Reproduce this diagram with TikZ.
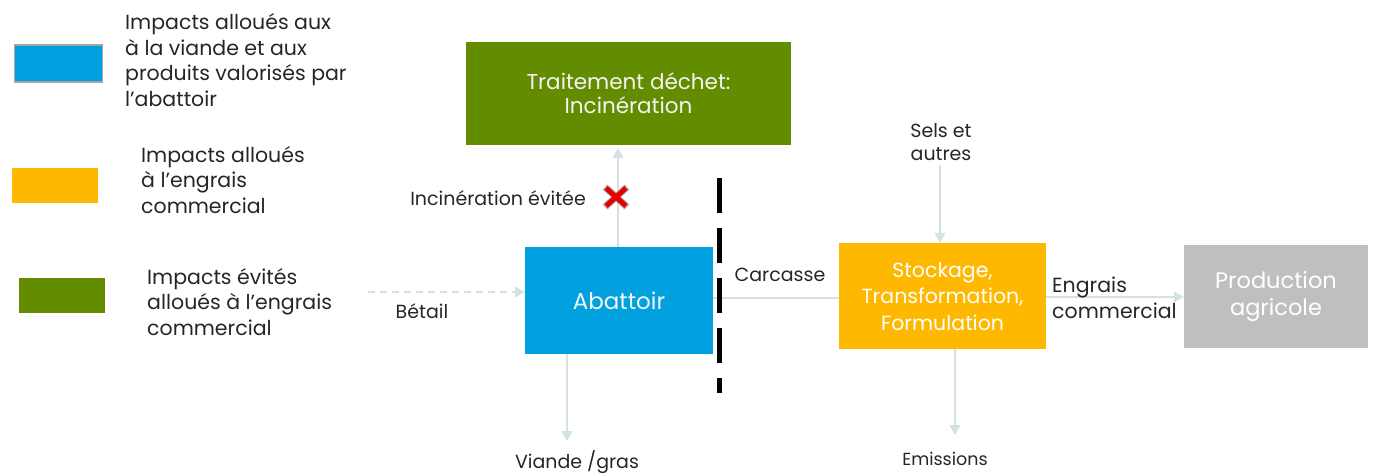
\documentclass[tikz,border=0pt]{standalone}
\usepackage{fontspec}
\setmainfont{Poppins}
\usetikzlibrary{arrows.meta,calc}
\definecolor{cblue}{HTML}{00A1DE}
\definecolor{corange}{HTML}{FFB800}
\definecolor{cgreen}{HTML}{638C00}
\definecolor{cgrey}{HTML}{BFBFBF}
\definecolor{ctext}{HTML}{262626}
\definecolor{cflow}{HTML}{D3E1E5}
\definecolor{cbox}{HTML}{F4F4F4}
\tikzset{
  legbox/.style={minimum width=86pt,minimum height=35pt,inner sep=0pt},
  legtext/.style={anchor=west,align=left,text=ctext,font=\fontsize{20.5}{25.7}\selectfont,inner sep=0pt},
  procbox/.style={inner sep=0pt,align=center,text=cbox},
  lbl/.style={text=ctext,font=\fontsize{19}{23}\selectfont,inner sep=0pt,align=center},
  flow/.style={draw=cflow,line width=1.2pt,-{Triangle[width=11pt,length=10pt]}},
  plainflow/.style={draw=cflow,line width=1.2pt},
}
\begin{document}
\begin{tikzpicture}[x=1pt,y=-1pt]
\useasboundingbox (0,0) rectangle (1373,475);

% legend
\node[legbox,fill=cblue,draw=gray!70,line width=1.2pt,minimum width=88pt,minimum height=37pt] (lb) at (58.5,63.5) {};
\node[legtext] (lbt) at (125,60) {Impacts alloués aux\\à la viande et aux\\produits valorisés par\\l’abattoir};
\node[legbox,fill=corange] (lo) at (55,185) {};
\node[legtext] (lot) at (141,180) {Impacts alloués\\à l’engrais\\commercial};
\node[legbox,fill=cgreen] (lg) at (62,295) {};
\node[legtext] (lgt) at (147,302) {Impacts évités\\alloués à l’engrais\\commercial};

% process boxes
\node[procbox,fill=cgreen,minimum width=325pt,minimum height=103pt,font=\fontsize{21.5}{24}\selectfont] (inc) at (628.5,93.5) {Traitement déchet:\\Incinération};
\node[procbox,fill=cblue,minimum width=188pt,minimum height=107pt,font=\fontsize{23}{26}\selectfont] (aba) at (619,300.5) {Abattoir};
\node[procbox,fill=corange,minimum width=207pt,minimum height=106pt,text=white,font=\fontsize{20.5}{26.5}\selectfont] (sto) at (942.5,296) {Stockage,\\Transformation,\\Formulation};
\node[procbox,fill=cgrey,minimum width=184pt,minimum height=103pt,text=white,font=\fontsize{22.5}{27}\selectfont] (prod) at (1276,296.5) {Production\\agricole};

% free ends of the flows
\coordinate (betail) at (368,292);
\coordinate (viande) at (567,441);
\coordinate (sels) at (940,165);
\coordinate (emis) at (955,435);

% flows
\draw[flow] (aba.north -| 618,0) -- (618,148);
\draw[flow,dashed,dash pattern=on 7pt off 5pt] (betail) -- (aba.west |- betail);
\draw[flow] (aba.south -| viande) -- (viande);
\draw[plainflow] (aba.east |- 0,298) -- (sto.west |- 0,298);
\draw[flow] (sels) -- (sto.north -| sels);
\draw[flow] (sto.south -| emis) -- (emis);
\draw[flow] (sto.east |- 0,297) -- (prod.west |- 0,297);

% system boundary
\draw[black,line width=5pt,dash pattern=on 35pt off 15pt] (719,178) -- (719,393);

% avoided incineration mark
\node[lbl,anchor=east] (evit) at (586,198) {Incinération évitée};
\coordinate (xc) at (616,197);
\draw[gray!60,line width=7pt] ($(xc)+(-11,-10)$) -- ($(xc)+(11,10)$) ($(xc)+(-11,10)$) -- ($(xc)+(11,-10)$);
\draw[red!90!black,line width=5pt] ($(xc)+(-10,-9)$) -- ($(xc)+(10,9)$) ($(xc)+(-10,9)$) -- ($(xc)+(10,-9)$);

% flow labels
\node[lbl] (lbet) at (422,311) {Bétail};
\node[lbl] (lvia) at (577,462) {Viande /gras};
\node[lbl] (lcar) at (780,275) {Carcasse};
\node[lbl] (lsel) at (941,142) {Sels et\\autres};
\node[lbl,font=\fontsize{17.5}{23}\selectfont] (lemi) at (945,459) {Emissions};
\node[lbl,anchor=west,align=left,font=\fontsize{20.5}{26}\selectfont] (leng) at (1052,298) {Engrais\\commercial};
\end{tikzpicture}
\end{document}
